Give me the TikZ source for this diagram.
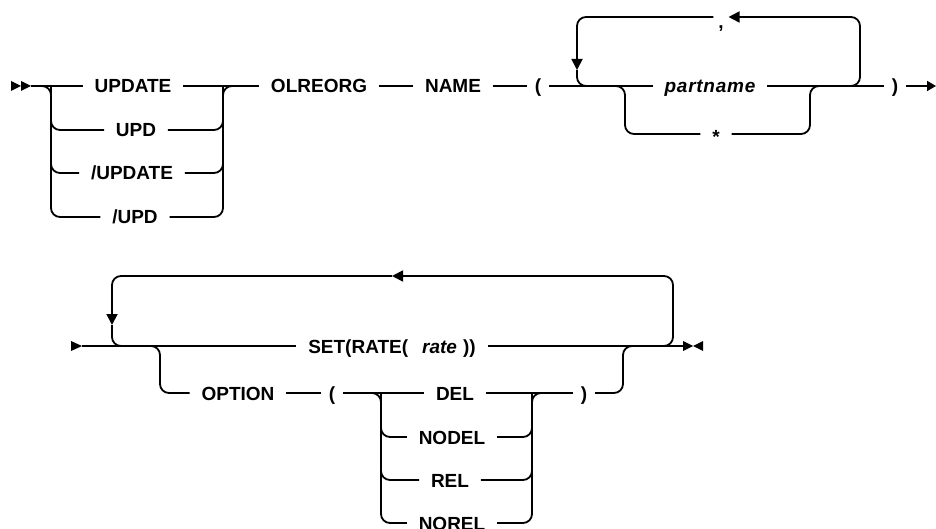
\documentclass[tikz,border=0pt]{standalone}
\usepackage{fontspec}
\setmainfont{Liberation Sans}
\usetikzlibrary{arrows.meta}
\begin{document}
\begin{tikzpicture}[x=1pt,y=-1pt,line width=1.8pt,
  kw/.style={font=\bfseries\fontsize{19}{19}\selectfont, text height=14pt, text depth=0pt, inner ysep=0pt, inner xsep=11pt},
  kwi/.style={kw, font=\bfseries\itshape\fontsize{19}{19}\selectfont},
  pn/.style={kw, inner xsep=7pt},
  rc/.style={rounded corners=9pt},
  arr/.style={-{Triangle[length=11pt,width=11pt]}},
  arrend/.style={-{Triangle[length=9pt,width=10pt]}}]
\useasboundingbox (0,0) rectangle (936,529);

% ---------- top row ----------
\node[kw] (upd1) at (133,86) {UPDATE};
\node[kw] (upd2) at (136,130) {UPD};
\node[kw] (upd3) at (132,173) {/UPDATE};
\node[kw] (upd4) at (135,217) {/UPD};
\node[kw] (olr) at (319,86) {OLREORG};
\node[kw] (name) at (453,86) {NAME};
\node[pn] (lp1) at (538,86) {(};
\node[kwi] (part) at (710,86) {\addfontfeature{LetterSpace=4}partname};
\node[kw] (star) at (716,134) {\raisebox{-3pt}{*}};
\node[pn, inner xsep=4pt] (comma) at (721,17) {\raisebox{-5pt}{,}};
\node[pn] (rp1) at (895,86) {)};

\coordinate (s1) at (31,86);
\coordinate (a1) at (41,86);
\coordinate (a2) at (51,86);
\coordinate (b2) at (223,86);
\coordinate (b3) at (233,86);
\coordinate (p0) at (587,86);
\coordinate (pd) at (577,70);
\coordinate (q0) at (615,86);
\coordinate (q1) at (625,86);
\coordinate (q2) at (810,86);
\coordinate (q3) at (820,86);
\coordinate (r0) at (850,86);
\coordinate (r1) at (860,86);
\coordinate (e1) at (936,86);

\fill (11,81) -- (21,86) -- (11,91) -- cycle;
\fill (21,81) -- (31,86) -- (21,91) -- cycle;
\draw (s1) -- (upd1.west);
\draw[rc] (a1) -- (a2) |- (upd4.west);
\draw[rc] (a2) |- (upd2.west);
\draw[rc] (a2) |- (upd3.west);
\draw (upd1.east) -- (olr.west);
\draw[rc] (upd4.east) -| (b2) -- (b3);
\draw[rc] (upd2.east) -| (b2);
\draw[rc] (upd3.east) -| (b2);
\draw (olr.east) -- (name.west);
\draw (name.east) -- (lp1.west);
\draw (lp1.east) -- (part.west);
\draw[rc] (q0) -- (q1) |- (star.west);
\draw[rc] (star.east) -| (q2) -- (q3);
\draw (part.east) -- (rp1.west);
\draw[rc,arr] (r0) -- (r1) |- (comma.east);
\draw[rc,arr] (comma.west) -| (pd);
\draw[rc] (pd) |- (p0);
\draw[arrend] (rp1.east) -- (e1);

% ---------- bottom row ----------
\node[kw] (set) at (392,346) {SET(RATE(\hspace{14pt}\textit{rate}\hspace{6pt}))};
\node[kw] (opt) at (238,393) {OPTION};
\node[pn] (lp2) at (332,393) {(};
\node[kw] (del) at (455,393) {DEL};
\node[kw] (nodel) at (452,437) {NODEL};
\node[kw] (rel) at (450,480) {REL};
\node[kw] (norel) at (452,523) {NOREL};
\node[pn] (rp2) at (584,393) {)};

\coordinate (s2) at (82,346);
\coordinate (m0) at (122,346);
\coordinate (md) at (112,325);
\coordinate (ta) at (392,276);
\coordinate (n0) at (663,346);
\coordinate (n1) at (673,346);
\coordinate (e2) at (683,346);
\coordinate (o0) at (150,346);
\coordinate (o1) at (160,346);
\coordinate (o2) at (623,346);
\coordinate (o3) at (633,346);
\coordinate (c0) at (371,393);
\coordinate (c1) at (381,393);
\coordinate (c2) at (532,393);
\coordinate (c3) at (542,393);

\fill (71,341) -- (82,346) -- (71,351) -- cycle;
\draw (s2) -- (set.west);
\draw (set.east) -- (e2);
\draw[rc,arr] (n0) -- (n1) |- (ta);
\draw[rc,arr] (ta) -| (md);
\draw[rc] (md) |- (m0);
\draw[rc] (o0) -- (o1) |- (opt.west);
\draw (opt.east) -- (lp2.west);
\draw (lp2.east) -- (del.west);
\draw (del.east) -- (rp2.west);
\draw[rc] (rp2.east) -| (o2) -- (o3);
\draw[rc] (c0) -- (c1) |- (norel.west);
\draw[rc] (c1) |- (nodel.west);
\draw[rc] (c1) |- (rel.west);
\draw[rc] (norel.east) -| (c2) -- (c3);
\draw[rc] (nodel.east) -| (c2);
\draw[rc] (rel.east) -| (c2);
\fill (683,341) -- (693,346) -- (683,351) -- cycle;
\fill (703,341) -- (693,346) -- (703,351) -- cycle;
\end{tikzpicture}
\end{document}
